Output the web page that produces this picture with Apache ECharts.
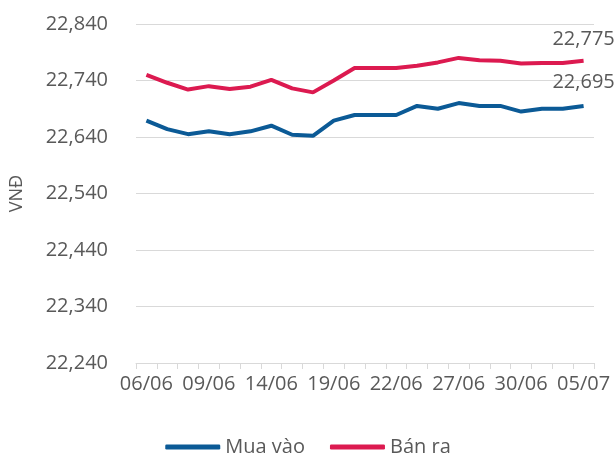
<!DOCTYPE html>
<html>
<head>
  <meta charset="utf-8">
  <script src="https://cdn.jsdelivr.net/npm/echarts@6/dist/echarts.min.js"></script>
  <style>
    html, body { margin: 0; padding: 0; background: #fff; }
    #chart { width: 616px; height: 453px; }
  </style>
</head>
<body>
  <div id="chart"></div>
  <script>
    const dates = [
      "06/06", "07/06", "08/06", "09/06", "12/06", "13/06", "14/06", "15/06",
      "16/06", "19/06", "20/06", "21/06", "22/06", "23/06", "26/06", "27/06",
      "28/06", "29/06", "30/06", "03/07", "04/07", "05/07"
    ];
    const buyPrices = [
      22669, 22654, 22645, 22650, 22645, 22650, 22660, 22644, 22642, 22669, 22679,
      22679, 22679, 22695, 22690, 22700, 22695, 22695, 22685, 22690, 22690, 22695
    ];
    const sellPrices = [
      22750, 22736, 22724, 22730, 22725, 22729, 22741, 22726, 22719, 22740, 22762,
      22762, 22762, 22766, 22772, 22780, 22776, 22775, 22770, 22771, 22771, 22775
    ];
    const seriesNames = ["Mua vào", "Bán ra"];

    const font = "Open Sans";
    const textColor = "#595959";
    const gridColor = "#d9d9d9";

    const chart = echarts.init(document.getElementById("chart"));

    // value label sitting above the last point of a line
    function endLabel(dy) {
      return {
        show: true,
        align: "center",
        verticalAlign: "bottom",
        distance: 0,
        offset: [0, dy],
        color: textColor,
        fontSize: 20,
        fontFamily: font,
        formatter: p => p.value.toLocaleString("en-US")
      };
    }

    const option = {
      animation: false,
      textStyle: { fontFamily: font },
      grid: { left: 135, right: 22, top: 24, bottom: 90 },
      legend: {
        data: seriesNames,
        top: 432,
        left: "center",
        icon: "roundRect",
        itemWidth: 55,
        itemHeight: 5,
        itemGap: 25,
        textStyle: { color: textColor, fontSize: 20, fontFamily: font }
      },
      xAxis: {
        type: "category",
        data: dates,
        boundaryGap: true,
        axisLine: { lineStyle: { color: gridColor, width: 1 } },
        axisTick: { show: true, interval: 0, length: 6, lineStyle: { color: gridColor } },
        axisLabel: {
          interval: 2,
          color: textColor,
          fontSize: 20,
          fontFamily: font,
          margin: 11
        },
        splitLine: { show: false }
      },
      yAxis: {
        type: "value",
        min: 22240,
        max: 22840,
        interval: 100,
        name: "VNĐ",
        nameLocation: "middle",
        nameGap: 110,
        nameTextStyle: { color: textColor, fontSize: 18, fontFamily: font },
        axisLine: { show: false },
        axisTick: { show: false },
        axisLabel: {
          color: textColor,
          fontSize: 20,
          fontFamily: font,
          margin: 28,
          formatter: v => v.toLocaleString("en-US")
        },
        splitLine: { lineStyle: { color: gridColor, width: 1 } }
      },
      series: [
        {
          name: seriesNames[0],
          type: "line",
          data: buyPrices,
          showSymbol: false,
          lineStyle: { color: "#0B5A96", width: 4 },
          itemStyle: { color: "#0B5A96" },
          endLabel: endLabel(-14)
        },
        {
          name: seriesNames[1],
          type: "line",
          data: sellPrices,
          showSymbol: false,
          lineStyle: { color: "#DC1A50", width: 4 },
          itemStyle: { color: "#DC1A50" },
          endLabel: endLabel(-11)
        }
      ]
    };

    chart.setOption(option);
  </script>
</body>
</html>
